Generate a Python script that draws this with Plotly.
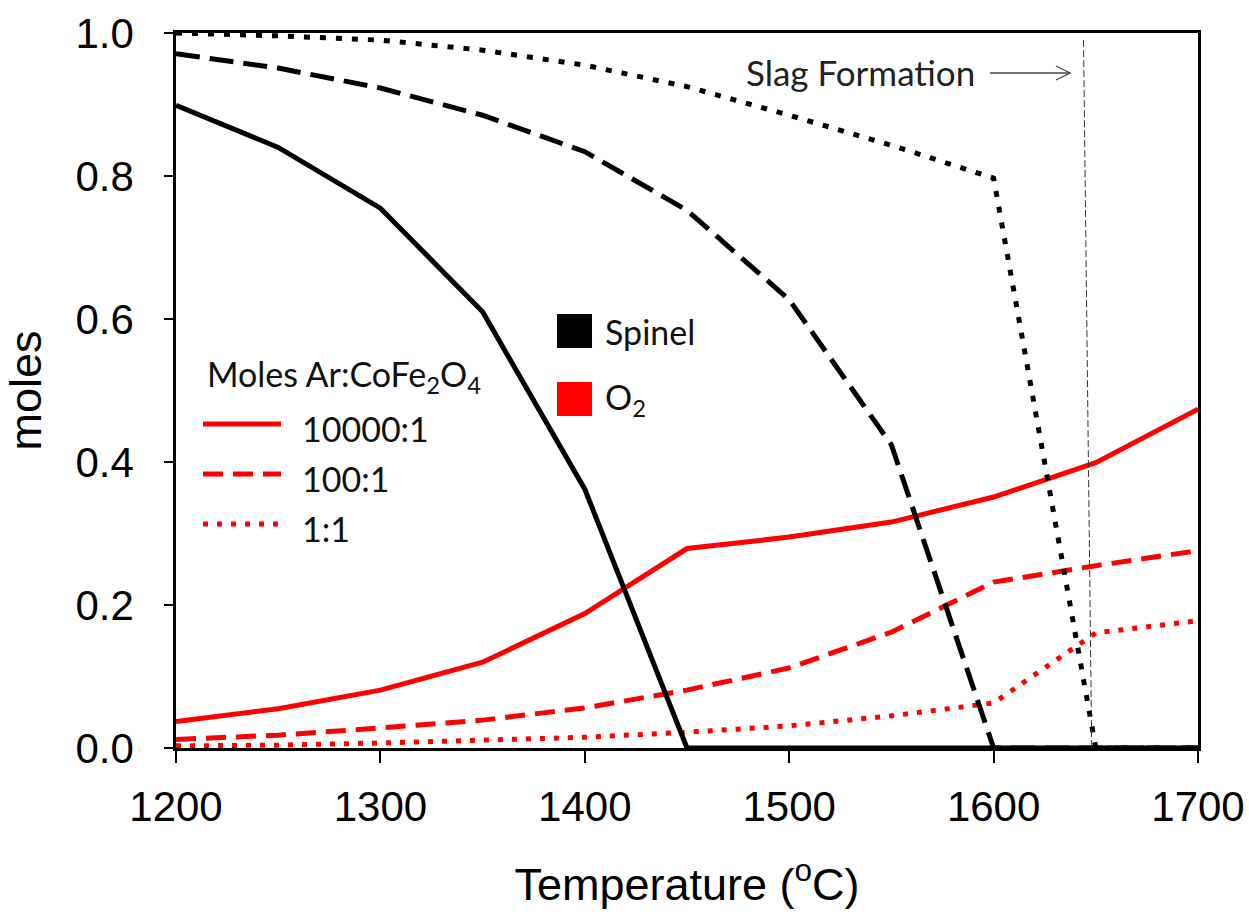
import plotly.graph_objects as go

# Temperature grid (°C)
temperature = [1200, 1250, 1300, 1350, 1400, 1450, 1500, 1550, 1600, 1650, 1700]

# Spinel (moles) for each Ar:CoFe2O4 ratio
spinel_10000 = [0.899, 0.840, 0.755, 0.610, 0.362, 0.0, 0.0, 0.0, 0.0, 0.0, 0.0]
spinel_100 = [0.971, 0.951, 0.923, 0.885, 0.834, 0.752, 0.627, 0.424, 0.0, 0.0, 0.0]
spinel_1 = [1.000, 0.996, 0.990, 0.976, 0.955, 0.925, 0.885, 0.843, 0.797, 0.0, 0.0]

# O2 (moles) for each Ar:CoFe2O4 ratio
o2_10000 = [0.037, 0.055, 0.081, 0.120, 0.188, 0.279, 0.295, 0.316, 0.351, 0.399, 0.474]
o2_100 = [0.012, 0.018, 0.028, 0.039, 0.056, 0.081, 0.112, 0.162, 0.232, 0.255, 0.276]
o2_1 = [0.003, 0.004, 0.007, 0.011, 0.015, 0.022, 0.031, 0.045, 0.063, 0.161, 0.178]

ratio_labels = ["10000:1", "100:1", "1:1"]
x_ticks = [1200, 1300, 1400, 1500, 1600, 1700]
y_ticks = [0.0, 0.2, 0.4, 0.6, 0.8, 1.0]

# Slag formation marker line (top / bottom temperature)
slag_top_T = 1644
slag_bottom_T = 1648

RED = "#ff0000"
BLACK = "#000000"
dash_styles = ["solid", "20px,10px", "5px,9px"]
black_dash = ["solid", "24px,10px", "6px,10px"]

fig = go.Figure()

for ys, dash in zip([o2_10000, o2_100, o2_1], dash_styles):
    fig.add_trace(go.Scatter(x=temperature, y=ys, mode="lines",
                             line=dict(color=RED, width=5, dash=dash),
                             showlegend=False, hoverinfo="skip"))

for ys, dash in zip([spinel_10000, spinel_100, spinel_1], black_dash):
    fig.add_trace(go.Scatter(x=temperature, y=ys, mode="lines",
                             line=dict(color=BLACK, width=5, dash=dash),
                             showlegend=False, hoverinfo="skip"))

# plot-area pixel frame: x 176..1198, y 33..748
PL, PR, PT, PB = 176, 1198, 33, 748


def px(xp):
    return (xp - PL) / (PR - PL)


def py(yp):
    return (PB - yp) / (PB - PT)


shapes = []
annotations = []
label_font = dict(family="Lato", size=34, color="#111111")

# slag formation line
shapes.append(dict(type="line", xref="x", yref="y",
                   x0=slag_top_T, y0=0.99, x1=slag_bottom_T, y1=0.0,
                   line=dict(color="#333333", width=1, dash="7px,3px")))

# arrow next to the slag label
ay = py(73)
shapes.append(dict(type="line", xref="paper", yref="paper",
                   x0=px(990), y0=ay, x1=px(1070), y1=ay,
                   line=dict(color="#444444", width=1.3)))
shapes.append(dict(type="path", xref="paper", yref="paper",
                   path=f"M {px(1056)} {py(66)} L {px(1070)} {ay} L {px(1056)} {py(80)}",
                   line=dict(color="#444444", width=1.3)))
annotations.append(dict(text="Slag Formation", xref="paper", yref="paper",
                        x=px(744), y=py(72), xanchor="left", yanchor="middle",
                        showarrow=False,
                        font=dict(family="Lato", size=35, color="#222222")))

# ratio legend
annotations.append(dict(text="Moles Ar:CoFe<sub>2</sub>O<sub>4</sub>",
                        xref="paper", yref="paper", x=px(205), y=py(376),
                        xanchor="left", yanchor="middle", showarrow=False,
                        font=label_font))
legend_rows = [424, 474, 524]
for lab, dash, yrow in zip(ratio_labels, dash_styles, legend_rows):
    shapes.append(dict(type="line", xref="paper", yref="paper",
                       x0=px(203), y0=py(yrow), x1=px(281), y1=py(yrow),
                       line=dict(color=RED, width=5, dash=dash)))
    annotations.append(dict(text=lab, xref="paper", yref="paper",
                            x=px(300), y=py(yrow + 4), xanchor="left",
                            yanchor="middle", showarrow=False,
                            font=label_font))

# species legend
for color, label, yc in [(BLACK, "Spinel", 331), (RED, "O<sub>2</sub>", 399)]:
    shapes.append(dict(type="rect", xref="paper", yref="paper",
                       x0=px(557), x1=px(592), y0=py(yc - 17), y1=py(yc + 17),
                       fillcolor=color, line=dict(width=0)))
    annotations.append(dict(text=label, xref="paper", yref="paper",
                            x=px(603), y=py(yc), xanchor="left",
                            yanchor="middle", showarrow=False,
                            font=label_font))

tick_font = dict(family="Liberation Sans, Arial", size=42, color="#000000")
title_font = dict(family="Liberation Sans, Arial", size=45, color="#000000")

fig.update_layout(
    width=1249, height=912,
    margin=dict(l=PL, r=1249 - PR, t=PT, b=912 - PB),
    paper_bgcolor="white", plot_bgcolor="white",
    shapes=shapes, annotations=annotations,
    xaxis=dict(range=[1200, 1700], tickvals=x_ticks,
               ticktext=[str(v) for v in x_ticks], automargin=False,
               showgrid=False, zeroline=False,
               showline=True, linecolor="black", linewidth=2.5, mirror=True,
               ticks="outside", ticklen=12, tickwidth=2, tickcolor="black",
               tickfont=tick_font, ticklabelstandoff=8,
               title=dict(text="Temperature (<sup>o</sup>C)",
                          font=title_font, standoff=40)),
    yaxis=dict(range=[0, 1], tickvals=y_ticks,
               ticktext=[f"{v:.1f}" for v in y_ticks], automargin=False,
               showgrid=False, zeroline=False,
               showline=True, linecolor="black", linewidth=2.5, mirror=True,
               ticks="outside", ticklen=9, tickwidth=2, tickcolor="black",
               tickfont=tick_font, ticklabelstandoff=22,
               title=dict(text="moles", font=title_font, standoff=22)),
)

fig.write_html("out.html")
